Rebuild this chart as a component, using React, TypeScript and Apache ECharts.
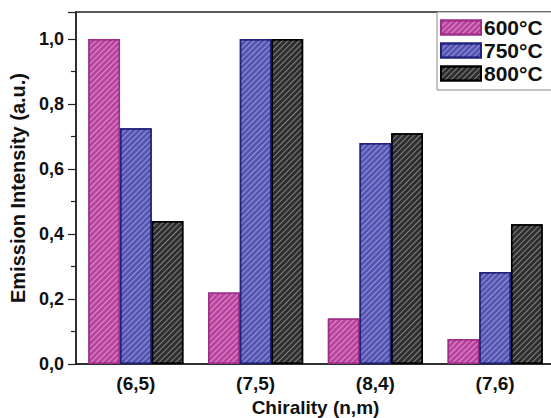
import React, { useEffect, useRef } from "react";
import * as echarts from "echarts";

const categories = ["(6,5)", "(7,5)", "(8,4)", "(7,6)"];
const seriesNames = ["600°C", "750°C", "800°C"];
const values600 = [1.0, 0.22, 0.14, 0.077];
const values750 = [0.725, 1.0, 0.68, 0.283];
const values800 = [0.44, 1.0, 0.71, 0.43];

const fills = ["#b8449e", "#5656b2", "#2e2e2e"];
const borders = ["#a02d88", "#22227e", "#000000"];
const stripes = ["rgba(255,220,250,0.5)", "rgba(225,225,255,0.45)", "rgba(255,255,255,0.4)"];

export default function App() {
  const ref = useRef<HTMLDivElement>(null);
  useEffect(() => {
    if (!ref.current) return;
    const chart = echarts.init(ref.current, undefined, { renderer: "svg" });
    const data = [values600, values750, values800];
    const font = "Liberation Sans, Arial, sans-serif";
    chart.setOption({
      animation: false,
      backgroundColor: "#ffffff",
      grid: {
        left: 76,
        right: -4,
        top: 12,
        bottom: 54,
        outerBoundsMode: "none",
        containLabel: false,
        show: true,
        borderColor: "#222",
        borderWidth: 1.5,
        backgroundColor: "transparent",
      },
      legend: {
        left: 437,
        top: 12,
        orient: "vertical",
        itemWidth: 40,
        itemHeight: 14,
        itemGap: 2,
        padding: [5, 40, 6, 3],
        borderColor: "#888",
        borderWidth: 1,
        backgroundColor: "#fff",
        icon: "rect",
        textStyle: { fontFamily: font, fontWeight: "bold", fontSize: 21, color: "#111", padding: [0, 0, 0, -2] },
        data: seriesNames,
      },
      xAxis: {
        type: "category",
        data: categories,
        name: "Chirality (n,m)",
        nameLocation: "middle",
        nameGap: 30,
        nameTextStyle: { fontFamily: font, fontWeight: "bold", fontSize: 19, color: "#111" },
        axisLine: { lineStyle: { color: "#222", width: 1.5 } },
        axisTick: { show: false },
        axisLabel: { fontFamily: font, fontWeight: "bold", fontSize: 19, color: "#111", margin: 10 },
      },
      yAxis: {
        type: "value",
        min: 0,
        max: 1.083,
        interval: 0.2,
        name: "Emission Intensity (a.u.)",
        nameLocation: "middle",
        nameGap: 44,
        nameTextStyle: { fontFamily: font, fontWeight: "bold", fontSize: 20, color: "#111" },
        axisLine: { show: true, lineStyle: { color: "#222", width: 1.5 } },
        axisTick: { show: true, length: 8, lineStyle: { color: "#222", width: 1.2 } },
        minorTick: { show: true, splitNumber: 2, length: 5, lineStyle: { color: "#222", width: 1.2 } },
        splitLine: { show: false },
        axisLabel: {
          fontFamily: font,
          fontWeight: "bold",
          fontSize: 18,
          color: "#111",
          margin: 12,
          showMaxLabel: false,
          formatter: (v: number) => (v > 1.05 ? "" : v.toFixed(1).replace(".", ",")),
        },
      },
      series: seriesNames.map((name, i) => ({
        name,
        type: "bar",
        data: data[i],
        barWidth: 31.7,
        barGap: "0%",
        itemStyle: {
          color: fills[i],
          borderColor: borders[i],
          borderWidth: 1.5,
          decal: {
            symbol: "rect",
            symbolSize: 1,
            color: stripes[i],
            dashArrayX: [1, 0],
            dashArrayY: [1, 2.4],
            rotation: -Math.PI / 4,
          },
        },
      })),
    });
    return () => chart.dispose();
  }, []);
  return (
    <div
      ref={ref}
      style={{ position: "fixed", left: 0, top: 0, width: 551, height: 418 }}
    />
  );
}
